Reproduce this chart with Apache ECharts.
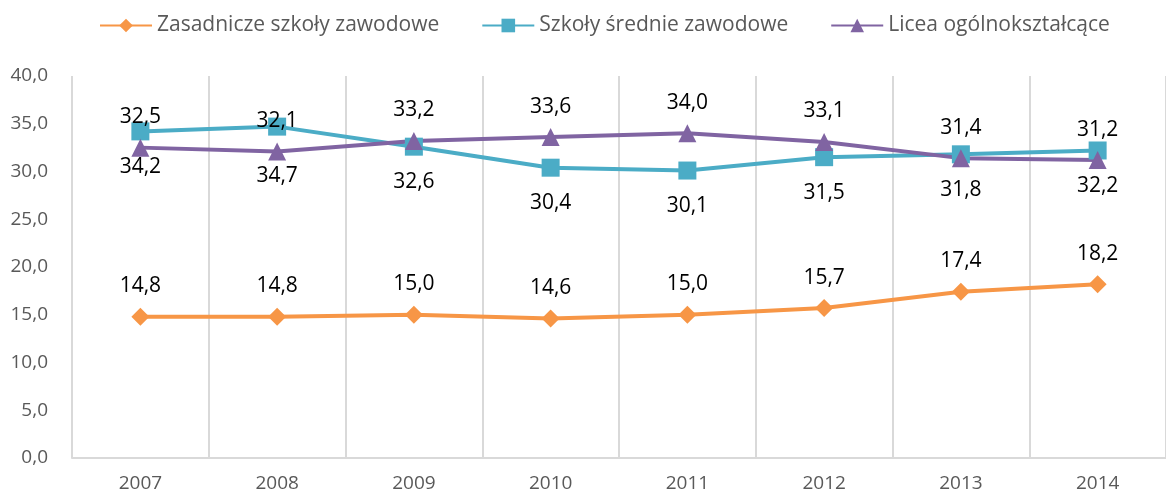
<!DOCTYPE html>
<html>
<head>
<meta charset="utf-8">
<script src="https://cdn.jsdelivr.net/npm/echarts@6/dist/echarts.min.js"></script>
<style>
  html, body { margin: 0; padding: 0; background: #fff; }
  #chart { width: 1166px; height: 494px; }
</style>
</head>
<body>
<div id="chart"></div>
<script>
  const years = ['2007', '2008', '2009', '2010', '2011', '2012', '2013', '2014'];
  const zasadnicze = [14.8, 14.8, 15.0, 14.6, 15.0, 15.7, 17.4, 18.2];
  const srednie = [34.2, 34.7, 32.6, 30.4, 30.1, 31.5, 31.8, 32.2];
  const licea = [32.5, 32.1, 33.2, 33.6, 34.0, 33.1, 31.4, 31.2];
  const seriesNames = ['Zasadnicze szkoły zawodowe', 'Szkoły średnie zawodowe', 'Licea ogólnokształcące'];
  const yTicks = [0, 5, 10, 15, 20, 25, 30, 35, 40];

  // extra push-down of the teal labels (2008 sits lower in the source)
  const srednieLabelShift = [0, 14, 0, 0, 0, 0, 0, 0];

  const font = '"Open Sans", sans-serif';
  const fmt = v => v.toFixed(1).replace('.', ',');

  const labelBase = {
    show: true,
    color: '#000',
    fontSize: 21,
    fontFamily: font,
    formatter: p => fmt(p.value)
  };

  const chart = echarts.init(document.getElementById('chart'));
  chart.setOption({
    animation: false,
    color: ['#F79646', '#4BACC6', '#8064A2'],
    textStyle: { fontFamily: font },
    legend: {
      top: 10,
      left: 94,
      itemWidth: 52,
      itemHeight: 17,
      itemGap: 42,
      textStyle: { color: '#595959', fontSize: 21, fontFamily: font },
      data: seriesNames
    },
    grid: { left: 72, right: -3, top: 76, bottom: 36 },
    xAxis: {
      type: 'category',
      data: years,
      boundaryGap: true,
      axisLine: { lineStyle: { color: '#D9D9D9', width: 2 } },
      axisTick: { show: false },
      axisLabel: { color: '#595959', fontSize: 19, fontFamily: font, margin: 16 },
      splitLine: { show: true, lineStyle: { color: '#D9D9D9', width: 2 } }
    },
    yAxis: {
      type: 'value',
      min: yTicks[0],
      max: yTicks[yTicks.length - 1],
      interval: 5,
      axisLine: { show: false },
      axisTick: { show: false },
      splitLine: { show: false },
      axisLabel: { color: '#595959', fontSize: 19, fontFamily: font, margin: 24, formatter: v => fmt(v) }
    },
    series: [
      {
        name: seriesNames[0],
        type: 'line',
        data: zasadnicze,
        symbol: 'diamond',
        symbolSize: 18,
        lineStyle: { width: 4 },
        label: Object.assign({ position: 'top', distance: 11 }, labelBase)
      },
      {
        name: seriesNames[1],
        type: 'line',
        data: srednie.map((v, i) => ({
          value: v,
          label: { offset: [0, srednieLabelShift[i]] }
        })),
        symbol: 'rect',
        symbolSize: 18,
        lineStyle: { width: 4 },
        label: Object.assign({ position: 'bottom', distance: 16 }, labelBase)
      },
      {
        name: seriesNames[2],
        type: 'line',
        data: licea,
        symbol: 'triangle',
        symbolSize: 18,
        lineStyle: { width: 4 },
        label: Object.assign({ position: 'top', distance: 11 }, labelBase)
      }
    ]
  });
</script>
</body>
</html>
